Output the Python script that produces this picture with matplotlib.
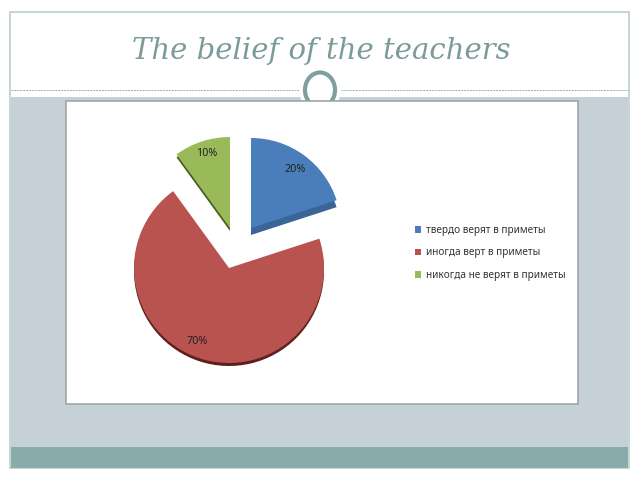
import os
import matplotlib
matplotlib.use('Agg')
import matplotlib.pyplot as plt
from matplotlib.font_manager import FontProperties
from matplotlib.patches import Rectangle, Ellipse

title = 'The belief of the teachers'
labels = ['твердо верят в приметы', 'иногда верт в приметы', 'никогда не верят в приметы']
shares = [20, 70, 10]
pct_labels = ['20%', '70%', '10%']
colors = ['#4a7ebb', '#b85350', '#9aba59']
dark_colors = ['#3a6596', '#5e1f1d', '#47601f']

# wedge centres and radii, in picture pixels (y counted from the top)
centers = [(251, 228), (229, 268), (230, 228)]
radii = [90, 95, 91]
depths = [7, 3, 3]
pct_pos = [(295, 170), (197, 342), (207, 154)]


def flip(y):
    return 480 - y


fig = plt.figure(figsize=(6.4, 4.8), dpi=100)
ax = fig.add_axes([0, 0, 1, 1])

# slide background
ax.add_patch(Rectangle((10, flip(468)), 619, 456, fc='white', ec='#bccfcf', lw=1.2, zorder=1))
ax.add_patch(Rectangle((11, flip(447)), 617, 350, fc='#c5d0d7', ec='none', zorder=1.1))
ax.add_patch(Rectangle((11, flip(468)), 617, 21, fc='#8aabab', ec='none', zorder=1.2))
ax.plot([11, 300], [flip(90), flip(90)], color='#9fb0b0', lw=0.7, ls=(0, (2, 1)), zorder=1.3)
ax.plot([341, 628], [flip(90), flip(90)], color='#9fb0b0', lw=0.7, ls=(0, (2, 1)), zorder=1.3)

# ring on the title rule, its lower part goes behind the panel
ax.add_patch(Ellipse((320, flip(90)), 42, 44, fc='white', ec='none', zorder=1.4))
ax.add_patch(Ellipse((320, flip(90)), 30, 35, fc='white', ec='#7d9f9f', lw=3, zorder=1.5))

# white chart panel
ax.add_patch(Rectangle((66, flip(404)), 512, 303, fc='white', ec='#a2a6a8', lw=1.2, zorder=2))

# darker copy below gives the slice its thickness
for colr_set, dy, z in ((dark_colors, 1, 3), (colors, 0, 4)):
    wedges, _ = ax.pie(shares, colors=colr_set, startangle=90, counterclock=False,
                       wedgeprops={'linewidth': 0, 'zorder': z}, frame=True)
    for i, w in enumerate(wedges):
        w.set_center((centers[i][0], flip(centers[i][1]) - dy * depths[i]))
        w.set_radius(radii[i])
        w.set_zorder(z)

for i, txt in enumerate(pct_labels):
    ax.text(pct_pos[i][0], flip(pct_pos[i][1]), txt, ha='center', va='center', fontsize=7.8,
            family='Noto Sans', color='#222222', zorder=5)

leg = ax.legend(wedges, labels, loc='upper left', bbox_to_anchor=(415 / 640, 1 - 225 / 480),
                frameon=False, prop={'family': 'Noto Sans', 'size': 7.2}, labelcolor='#333333',
                handlelength=0.6, handleheight=0.6, handletextpad=0.45, labelspacing=1.15,
                borderpad=0, borderaxespad=0)
leg.set_zorder(5)

ax.set_xlim(0, 640)
ax.set_ylim(0, 480)
ax.set_aspect('auto')
ax.axis('off')

# italic face named by its file
italic_file = os.path.join(matplotlib.get_data_path(), 'fonts', 'ttf', 'DejaVuSerif-Italic.ttf')
title_font = FontProperties(fname=italic_file, size=21)
fig.text(321 / 640, flip(59) / 480, title, ha='center', fontproperties=title_font,
         color='#7b9a9a', zorder=10)

fig.savefig('out.png', dpi=100)
